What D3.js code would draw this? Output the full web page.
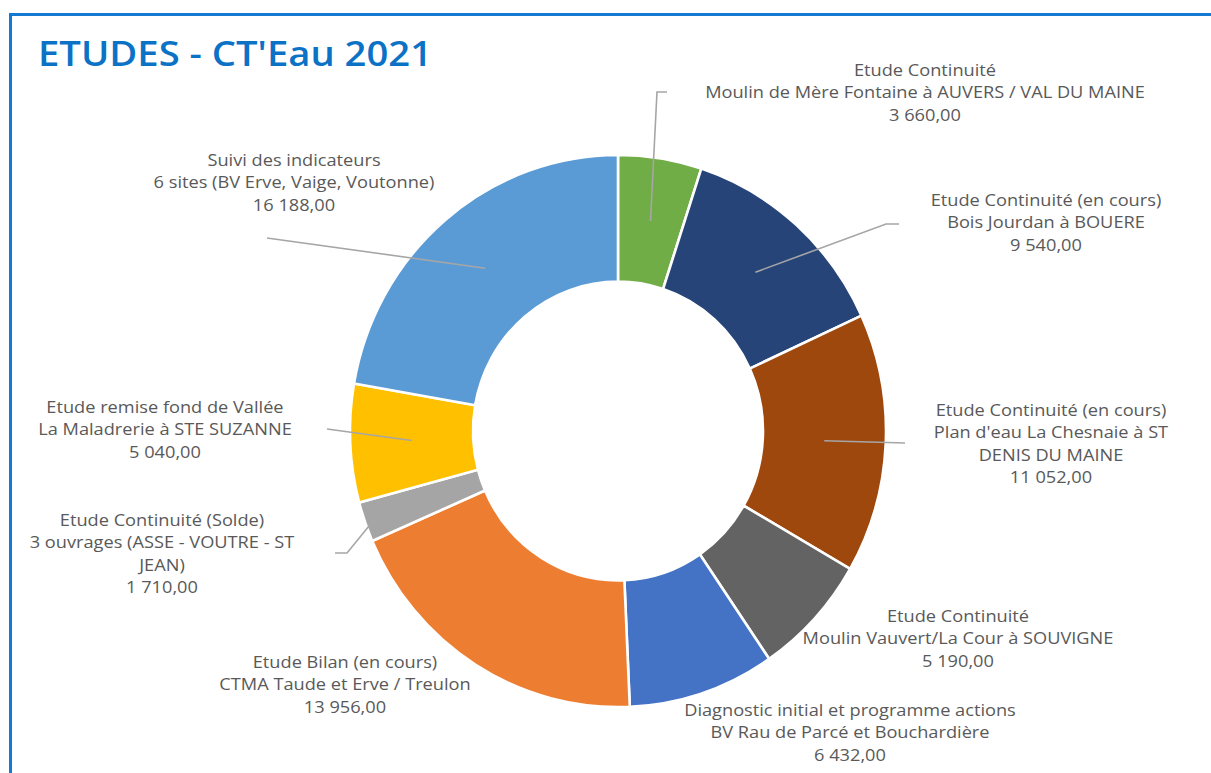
<!DOCTYPE html>
<html><head><meta charset="utf-8">
<script src="https://cdn.jsdelivr.net/npm/d3@7"></script>
<style>html,body{margin:0;padding:0;background:#fff;overflow:hidden}</style>
</head><body>
<svg id="chart" width="1211" height="773"></svg>
<script>
// ---- data ----
const categories = [
  ["Etude Continuité", "Moulin de Mère Fontaine à AUVERS / VAL DU MAINE"],
  ["Etude Continuité (en cours)", "Bois Jourdan à BOUERE"],
  ["Etude Continuité (en cours)", "Plan d'eau La Chesnaie à ST", "DENIS DU MAINE"],
  ["Etude Continuité", "Moulin Vauvert/La Cour à SOUVIGNE"],
  ["Diagnostic initial et programme actions", "BV Rau de Parcé et Bouchardière"],
  ["Etude Bilan (en cours)", "CTMA Taude et Erve / Treulon"],
  ["Etude Continuité (Solde)", "3 ouvrages (ASSE - VOUTRE - ST", "JEAN)"],
  ["Etude remise fond de Vallée", "La Maladrerie à STE SUZANNE"],
  ["Suivi des indicateurs", "6 sites (BV Erve, Vaige, Voutonne)"]
];
const values = [3660, 9540, 11052, 5190, 6432, 13956, 1710, 5040, 16188];
const colors = ["#70ad47", "#264478", "#9e480e", "#636363", "#4472c4", "#ed7d31", "#a5a5a5", "#ffc000", "#5b9bd5"];
const title = "ETUDES - CT'Eau 2021";

// ---- layout (label placement) ----
const labelPos = [
  {x: 925, y: 70, lead: [[657, 92], [667, 92]]},
  {x: 1046, y: 200, lead: [[886, 224], [899, 224]]},
  {x: 1051, y: 410, lead: [[905, 443]]},
  {x: 958, y: 616, lead: null},
  {x: 850, y: 710, lead: null},
  {x: 345, y: 662, lead: null},
  {x: 162, y: 520, lead: [[347, 553], [335, 553]], r: 257},
  {x: 165, y: 407, lead: [[327, 429]]},
  {x: 294, y: 160, lead: [[267, 238]]}
];

const svg = d3.select("#chart");
const W = 1211, H = 773;
svg.append("rect").attr("width", W).attr("height", H).attr("fill", "#fff");
// frame
svg.append("rect").attr("x", 10.5).attr("y", 14.5).attr("width", W + 20).attr("height", H + 20)
  .attr("fill", "none").attr("stroke", "#1479d0").attr("stroke-width", 3);

svg.append("text").attr("x", 38).attr("y", 66).text(title)
  .attr("font-family", "'Open Sans', sans-serif").attr("font-weight", 600)
  .attr("font-size", 35).attr("fill", "#0b72c6")
  .attr("textLength", 394).attr("lengthAdjust", "spacingAndGlyphs");

const cx = 618, cy = 431, R = 268, r0 = 145, sy = 1.03;
const pie = d3.pie().sort(null).value(d => d)(values);
const arc = d3.arc().innerRadius(r0).outerRadius(R);

const g = svg.append("g").attr("transform", `translate(${cx},${cy}) scale(1,${sy})`);
g.selectAll("path").data(pie).join("path")
  .attr("d", arc).attr("fill", (d, i) => colors[i])
  .attr("stroke", "#fff").attr("stroke-width", 2.6).attr("vector-effect", "non-scaling-stroke");

const fmt = v => {
  const s = Math.round(v).toString().replace(/\B(?=(\d{3})+(?!\d))/g, " ");
  return s + ",00";
};

const fontFam = "'Open Sans', sans-serif";
const stretch = 1.07;
pie.forEach((d, i) => {
  const p = labelPos[i];
  const mid = (d.startAngle + d.endAngle) / 2;
  const rr = p.r || (R + r0) / 2;
  const sx = cx + rr * Math.sin(mid), sy2 = cy - rr * Math.cos(mid) * sy;
  if (p.lead) {
    const pts = [[sx, sy2]].concat(p.lead);
    svg.append("path").attr("d", d3.line()(pts)).attr("fill", "none")
      .attr("stroke", "#a6a6a6").attr("stroke-width", 1.6);
  }
  const lines = categories[i].concat([fmt(values[i])]);
  const t = svg.append("text").attr("font-family", fontFam).attr("font-size", 17)
    .attr("fill", "#595959").attr("text-anchor", "middle");
  lines.forEach((ln, k) => {
    const ts = t.append("tspan").attr("x", p.x).attr("y", p.y + 6 + k * 22.4).text(ln);
    const L = ts.node().getComputedTextLength();
    ts.attr("textLength", L * stretch).attr("lengthAdjust", "spacingAndGlyphs");
  });
});
</script>
</body></html>
